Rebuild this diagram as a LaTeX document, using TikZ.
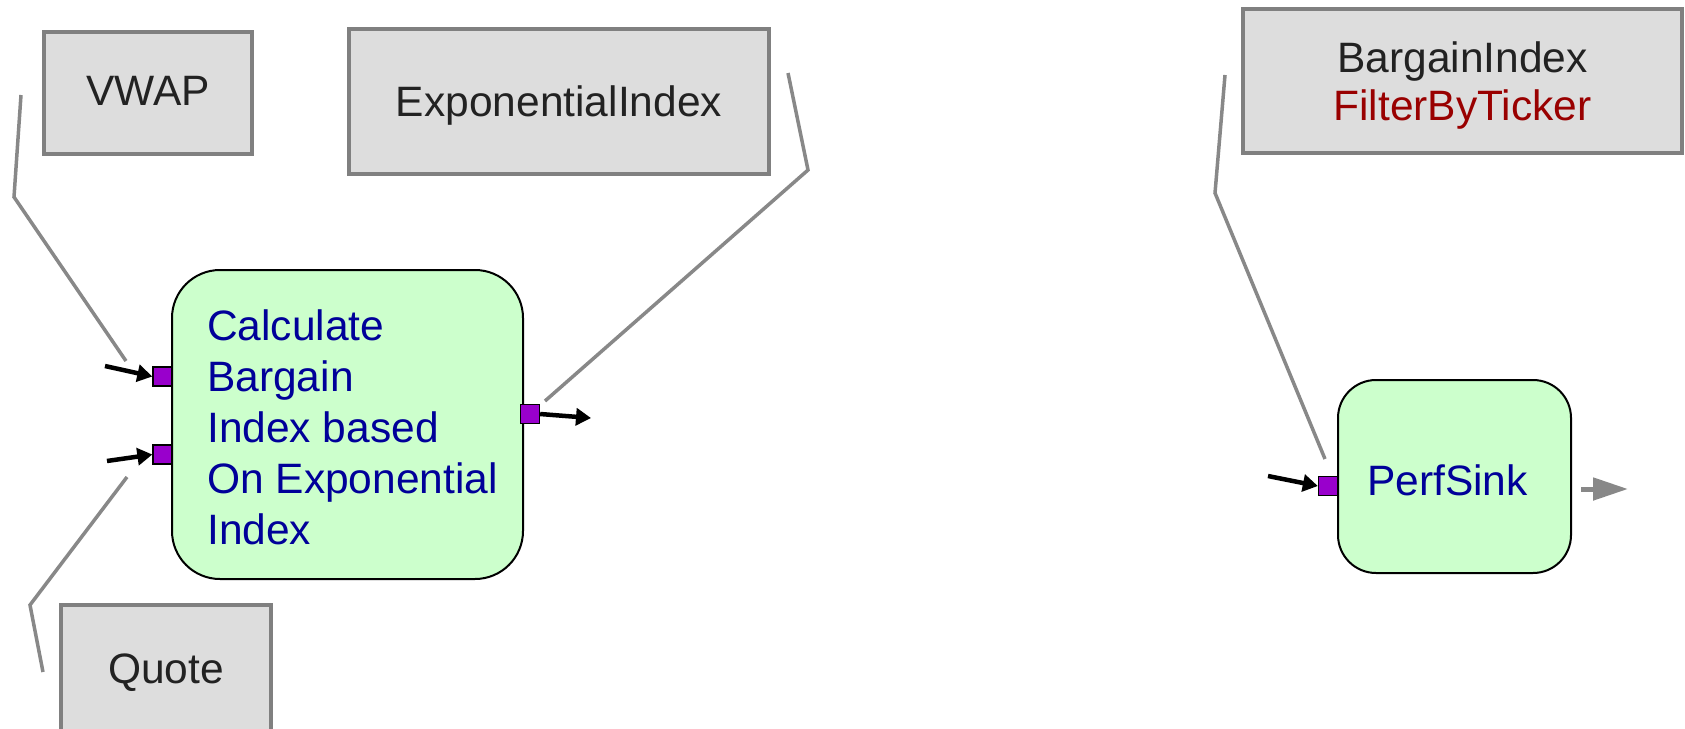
\documentclass[tikz,border=0pt]{standalone}
\usepackage{fontspec}
\setmainfont{Liberation Sans}
\usetikzlibrary{arrows.meta}
\definecolor{boxgray}{HTML}{DDDDDD}
\definecolor{edgegray}{HTML}{808080}
\definecolor{leafgreen}{HTML}{CCFFCC}
\definecolor{navytext}{HTML}{000099}
\definecolor{darkred}{HTML}{990000}
\definecolor{portpurple}{HTML}{9900CC}
\definecolor{inktext}{HTML}{222222}
\definecolor{calloutgray}{HTML}{888888}
% small indent used to place the block text
\newcommand\blockindent{\hspace*{10pt}}

\begin{document}
\begin{tikzpicture}[x=1pt,y=-1pt,
  source/.style={draw=edgegray, line width=3.5pt, fill=boxgray, text=inktext,
    font=\fontsize{42.5}{48}\selectfont, align=center, inner sep=0pt, text depth=0pt},
  block/.style={draw=black, line width=2pt, fill=leafgreen, text=navytext,
    font=\fontsize{42.5}{51}\selectfont, align=left, inner sep=0pt, text depth=0pt},
  port/.style={draw=black, line width=1.3pt, fill=portpurple,
    minimum size=19pt, inner sep=0pt},
  feed/.style={black, line width=4.5pt, -{Triangle[length=15pt,width=17pt]}},
  spill/.style={calloutgray, line width=5pt, -{Triangle[length=35pt,width=22pt]}},
  callout/.style={calloutgray, line width=3.5pt},
]
\useasboundingbox (0,0) rectangle (1685,728);

% source / sink type boxes
\node[source, minimum width=208pt, minimum height=122pt, text height=24pt]
  (vwap) at (148,93) {VWAP};
\node[source, minimum width=420pt, minimum height=145pt, text height=30.4pt]
  (expo) at (559,101.5) {ExponentialIndex};
\node[source, minimum width=439pt, minimum height=144pt, text height=78pt]
  (bidx) at (1462.5,81) {BargainIndex\\\textcolor{darkred}{FilterByTicker}};
\node[source, minimum width=210pt, minimum height=126pt, text height=30.6pt]
  (quote) at (166,668) {Quote};

% processing blocks
\node[block, rounded corners=48pt, minimum width=351pt, minimum height=309pt, text height=239pt]
  (calc) at (347.5,424.5)
  {\blockindent Calculate\\\blockindent Bargain\\\blockindent Index based\\
   \blockindent On Exponential\\\blockindent Index};
\node[block, rounded corners=38pt, minimum width=233pt, minimum height=193pt,
  text height=37.4pt] (sink) at (1454.5,476.5)
  {\hspace*{-14pt}PerfSink};

% ports
\node[port] (in1) at (162.5,376.5) {};
\node[port] (in2) at (162.5,454.5) {};
\node[port] (out) at (530,414) {};
\node[port] (sinkin) at (1328,486) {};

% stream arrows
\coordinate (f1) at (105,366);
\coordinate (f2) at (107,461);
\coordinate (f3) at (591,418);
\coordinate (f4) at (1268,476);
\coordinate (s1) at (1581,489);
\coordinate (s2) at (1628,489);
\draw[feed] (f1) -- (in1.west);
\draw[feed] (f2) -- (in2.west);
\draw[feed] (out.east) -- (f3);
\draw[feed] (f4) -- (sinkin.west);
\draw[spill] (s1) -- (s2);

% callout leaders
\coordinate (v1) at (21,95);   \coordinate (v2) at (14,197);  \coordinate (v3) at (126,361);
\coordinate (q1) at (127,477); \coordinate (q2) at (30,605);  \coordinate (q3) at (43,672);
\coordinate (e1) at (788,73);  \coordinate (e2) at (808,170); \coordinate (e3) at (545,401);
\coordinate (b1) at (1225,75); \coordinate (b2) at (1215,193); \coordinate (b3) at (1325,459);
\draw[callout] (v1) -- (v2) -- (v3);
\draw[callout] (q1) -- (q2) -- (q3);
\draw[callout] (e1) -- (e2) -- (e3);
\draw[callout] (b1) -- (b2) -- (b3);
\end{tikzpicture}
\end{document}
